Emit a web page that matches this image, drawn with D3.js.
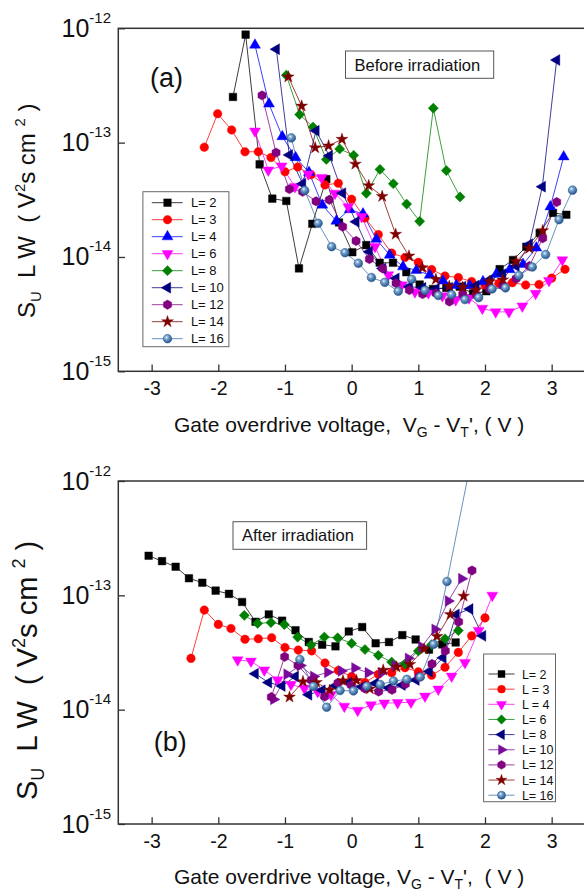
<!DOCTYPE html>
<html><head><meta charset="utf-8">
<script src="https://cdn.jsdelivr.net/npm/d3@7"></script>
<style>
body{margin:0;background:#fff}
svg{display:block}
text{font-family:"Liberation Sans",Arial,sans-serif;fill:#111;white-space:pre}
</style>
</head><body>
<svg id="c" width="584" height="891"></svg>
<script>
// ---------- tick values ----------
const xTickValues = [-3, -2, -1, 0, 1, 2, 3];
const yTickValues = [1e-15, 1e-14, 1e-13, 1e-12];
const yTickExponents = ["-15", "-14", "-13", "-12"];

// ---------- (a) Before irradiation ----------
const beforeLabels = ["L= 2", "L= 3", "L= 4", "L= 6", "L= 8", "L= 10", "L= 12", "L= 14", "L= 16"];

const before_L2_x = [-1.78,-1.59,-1.38,-1.19,-0.98,-0.79,-0.59,-0.38,-0.19,0.01,0.22,0.42,0.62,0.82,1.02,1.22,1.42,1.62,1.82,2.02,2.22,2.42,2.62,2.82,3.02,3.22];
const before_L2_y = [2.51e-13,8.81e-13,6.46e-14,3.24e-14,3.09e-14,7.94e-15,1.95e-14,4.79e-14,2.0e-14,1.10e-14,1.27e-14,8.9e-15,8.9e-15,7.35e-15,5.75e-15,5.25e-15,5.37e-15,5.5e-15,4.79e-15,5.01e-15,7.82e-15,9.42e-15,1.23e-14,1.62e-14,2.43e-14,2.34e-14];

const before_L3_x = [-2.21,-2.01,-1.80,-1.60,-1.40,-1.21,-1.0,-0.81,-0.61,-0.40,-0.20,0.0,0.20,0.40,0.60,0.80,1.0,1.2,1.4,1.6,1.8,2.0,2.21,2.41,2.61,2.81,3.0,3.2];
const before_L3_y = [9.12e-14,1.79e-13,1.29e-13,8.32e-14,8.32e-14,7.41e-14,5.56e-14,6.12e-14,5.25e-14,4.27e-14,4.41e-14,3.2e-14,2.19e-14,1.57e-14,1.08e-14,9.89e-15,8.97e-15,7.76e-15,6.82e-15,6.61e-15,6.1e-15,5.69e-15,5.89e-15,5.96e-15,5.69e-15,5.75e-15,6.53e-15,7.8e-15];

const before_L4_x = [-1.45,-1.24,-1.04,-0.84,-0.64,-0.44,-0.23,-0.03,0.17,0.37,0.57,0.77,0.97,1.17,1.37,1.57,1.77,1.97,2.17,2.37,2.57,2.77,2.98,3.18];
const before_L4_y = [7.14e-13,2.18e-13,1.13e-13,7.41e-14,5.5e-14,2.85e-14,2.06e-14,2.6e-14,2.38e-14,1.43e-14,1.04e-14,8.22e-15,7.64e-15,6.95e-15,6.17e-15,5.65e-15,5.62e-15,6.08e-15,7.08e-15,7.76e-15,8.61e-15,1.2e-14,2.75e-14,7.53e-14];

const before_L6_x = [-1.45,-1.25,-1.05,-0.85,-0.65,-0.45,-0.25,-0.05,0.15,0.35,0.55,0.75,0.95,1.15,1.36,1.56,1.76,1.96,2.16,2.36,2.56,2.76,2.96,3.16];
const before_L6_y = [1.26e-13,5.75e-14,6.24e-14,4.11e-14,5.31e-14,4.95e-14,3.6e-14,2.74e-14,2.25e-14,1.23e-14,6.97e-15,5.69e-15,4.95e-15,4.84e-15,4.57e-15,4.21e-15,4.37e-15,3.55e-15,3.31e-15,3.31e-15,3.72e-15,4.79e-15,6.21e-15,9.42e-15];

const before_L8_x = [-0.98,-0.78,-0.58,-0.38,-0.18,0.03,0.22,0.425,0.625,0.825,1.02,1.225,1.42,1.626];
const before_L8_y = [3.89e-13,1.76e-13,1.37e-13,7.13e-14,8.81e-14,7.76e-14,3.6e-14,5.83e-14,4.37e-14,2.9e-14,2.05e-14,2.0e-13,5.7e-14,3.35e-14];

const before_L10_x = [-1.13,-0.935,-0.735,-0.534,-0.335,-0.135,0.066,0.266,0.466,0.666,0.866,1.066,1.266,1.466,1.666,1.866,2.066,2.266,2.466,2.666,2.86,3.075];
const before_L10_y = [6.56e-13,7.8e-14,4.37e-14,1.27e-13,7.67e-14,3.61e-14,2.03e-14,1.11e-14,7.94e-15,6.5e-15,5.5e-15,5.37e-15,5.25e-15,5.37e-15,5.5e-15,5.62e-15,6.31e-15,7.08e-15,8.32e-15,1.29e-14,4.12e-14,5.28e-13];

const before_L12_x = [-1.344,-1.134,-0.934,-0.735,-0.534,-0.335,-0.135,0.066,0.266,0.465,0.666,0.865,1.065,1.266,1.466,1.666,1.866,2.066,2.266,2.466,2.666,2.866,3.076];
const before_L12_y = [2.59e-13,8.18e-14,3.92e-14,3.72e-14,3.07e-14,3.16e-14,1.84e-14,1.38e-14,9.59e-15,7.94e-15,5.89e-15,5.13e-15,4.73e-15,4.81e-15,4.07e-15,4.68e-15,4.68e-15,5.25e-15,5.62e-15,6.46e-15,8.32e-15,1.46e-14,3.02e-14];

const before_L14_x = [-0.95,-0.75,-0.547,-0.346,-0.145,0.056,0.257,0.458,0.66,0.86,1.06,1.263,1.464,1.665,1.866,2.066,2.266,2.466,2.665,2.866];
const before_L14_y = [3.76e-13,2.09e-13,9.02e-14,9.38e-14,1.07e-13,6.49e-14,4.21e-14,3.39e-14,1.58e-14,1.02e-14,8.04e-15,6.38e-15,5.55e-15,5.43e-15,5.13e-15,6.1e-15,6.31e-15,9.12e-15,1.19e-14,1.70e-14];

const before_L16_x = [-0.905,-0.704,-0.503,-0.30,-0.10,0.10,0.296,0.497,0.698,0.90,1.10,1.30,1.50,1.70,1.905,2.106,2.307,2.508,2.71,2.91,3.11,3.313];
const before_L16_y = [1.10e-13,3.82e-14,1.97e-14,1.23e-14,1.09e-14,8.81e-15,6.61e-15,6.0e-15,5.01e-15,6.38e-15,5.11e-15,4.6e-15,4.68e-15,4.24e-15,4.41e-15,5.25e-15,5.37e-15,6.89e-15,8.17e-15,1.05e-14,2.12e-14,3.84e-14];

// ---------- (b) After irradiation ----------
const afterLabels = ["L= 2", "L = 3", "L = 4", "L= 6", "L= 8", "L= 10", "L= 12", "L= 14", "L= 16"];

const after_L2_x = [-3.045,-2.844,-2.64,-2.44,-2.24,-2.04,-1.84,-1.643,-1.442,-1.243,-1.043,-0.842,-0.643,-0.442,-0.243,-0.043,0.158,0.36,0.56,0.76,0.96,1.16,1.36,1.56];
const after_L2_y = [2.22e-13,1.99e-13,1.78e-13,1.41e-13,1.29e-13,1.10e-13,1.03e-13,8.75e-14,5.87e-14,6.81e-14,6.0e-14,4.95e-14,3.91e-14,3.70e-14,3.58e-14,4.83e-14,5.28e-14,3.81e-14,3.90e-14,4.49e-14,4.11e-14,3.35e-14,3.72e-14,3.87e-14];

const after_L3_x = [-2.41,-2.21,-2.0,-1.81,-1.60,-1.40,-1.20,-1.0,-0.80,-0.60,-0.40,-0.20,0.0,0.2,0.4,0.6,0.8,1.0,1.2,1.4,1.6,1.8,2.0];
const after_L3_y = [2.81e-14,7.43e-14,5.57e-14,5.13e-14,4.13e-14,4.17e-14,4.26e-14,3.50e-14,3.32e-14,3.27e-14,2.56e-14,2.20e-14,1.95e-14,1.73e-14,2.04e-14,2.10e-14,2.33e-14,2.14e-14,2.0e-14,2.35e-14,3.17e-14,4.42e-14,6.35e-14];

const after_L4_x = [-1.71,-1.51,-1.31,-1.11,-0.91,-0.71,-0.51,-0.31,-0.11,0.09,0.29,0.49,0.69,0.89,1.1,1.3,1.5,1.7,1.905,2.11];
const after_L4_y = [2.72e-14,2.65e-14,2.22e-14,1.82e-14,1.66e-14,1.54e-14,1.44e-14,1.35e-14,1.07e-14,9.84e-15,1.10e-14,1.14e-14,1.15e-14,1.16e-14,1.31e-14,1.51e-14,1.96e-14,2.58e-14,4.92e-14,1.0e-13];

const after_L6_x = [-1.61,-1.41,-1.21,-1.01,-0.81,-0.61,-0.41,-0.21,0.0,0.2,0.4,0.6,0.8,1.0,1.2,1.4,1.6];
const after_L6_y = [6.68e-14,5.68e-14,5.78e-14,5.55e-14,4.31e-14,3.67e-14,4.32e-14,4.25e-14,3.80e-14,3.36e-14,2.99e-14,2.61e-14,2.51e-14,3.26e-14,3.70e-14,4.17e-14,4.92e-14];

const after_L8_x = [-1.446,-1.246,-1.045,-0.845,-0.644,-0.444,-0.244,-0.044,0.156,0.356,0.556,0.756,0.966,1.166,1.37,1.567,1.773,1.965];
const after_L8_y = [2.06e-14,1.73e-14,1.61e-14,1.95e-14,1.35e-14,1.48e-14,1.62e-14,1.72e-14,1.58e-14,1.70e-14,1.55e-14,1.64e-14,1.82e-14,2.16e-14,2.84e-14,6.81e-14,7.59e-14,4.42e-14];

const after_L10_x = [-1.17,-0.97,-0.77,-0.57,-0.36,-0.155,0.047,0.248,0.45,0.65,0.85,1.05,1.25,1.45,1.65];
const after_L10_y = [1.23e-14,2.04e-14,2.43e-14,1.95e-14,2.12e-14,2.18e-14,2.31e-14,2.10e-14,2.10e-14,2.44e-14,2.81e-14,3.55e-14,5.04e-14,8.91e-14,1.40e-13];

const after_L12_x = [-1.205,-1.005,-0.805,-0.605,-0.405,-0.205,-0.005,0.2,0.405,0.605,0.805,1.005,1.205,1.405,1.605,1.805];
const after_L12_y = [1.29e-14,2.90e-14,2.44e-14,1.81e-14,1.30e-14,1.72e-14,1.64e-14,1.53e-14,1.44e-14,1.49e-14,1.67e-14,1.94e-14,2.51e-14,3.27e-14,5.87e-14,1.65e-13];

const after_L14_x = [-0.932,-0.73,-0.53,-0.33,-0.13,0.072,0.273,0.473,0.673,0.874,1.087,1.28,1.48,1.68];
const after_L14_y = [1.29e-14,1.76e-14,1.73e-14,1.48e-14,1.79e-14,1.80e-14,1.52e-14,2.22e-14,2.36e-14,2.49e-14,3.39e-14,4.37e-14,6.79e-14,9.84e-14];

const after_L16_x = [-0.776,-0.573,-0.375,-0.174,0.027,0.227,0.428,0.628,0.828,1.03,1.23,1.43,1.84];
const after_L16_y = [2.75e-14,1.60e-14,1.05e-14,1.47e-14,1.46e-14,1.60e-14,1.66e-14,1.78e-14,1.84e-14,1.93e-14,3.73e-14,1.32e-13,2.09e-12];

// ---------- styles ----------
const beforeColors = ["#000000","#ff0000","#0000ff","#ff00ff","#008000","#000080","#800080","#800000","#3a6fa8"];
const beforeShapes = ["square","circle","triUp","triDown","diamond","triLeft","hexagon","star","ball"];
const afterColors  = ["#000000","#ff0000","#ff00ff","#008000","#000080","#7a0a9a","#800080","#800000","#3a6fa8"];
const afterShapes  = ["square","circle","triDown","diamond","triLeft","triRight","hexagon","star","ball"];

const svg = d3.select("#c");
const defs = svg.append("defs");
const grad = defs.append("radialGradient").attr("id","ball").attr("cx","38%").attr("cy","35%").attr("r","65%");
grad.append("stop").attr("offset","0%").attr("stop-color","#f4f8fc");
grad.append("stop").attr("offset","30%").attr("stop-color","#7ea9d3");
grad.append("stop").attr("offset","100%").attr("stop-color","#24548a");

const hexagon = {
  draw(ctx, size) {
    const r = Math.sqrt(2 * size / (3 * Math.sqrt(3)));
    for (let i = 0; i < 6; i++) {
      const a = Math.PI / 3 * i + Math.PI / 6;
      const px = r * Math.cos(a), py = r * Math.sin(a);
      if (i === 0) ctx.moveTo(px, py); else ctx.lineTo(px, py);
    }
    ctx.closePath();
  }
};

function markerSpec(kind, k) {
  switch (kind) {
    case "square":  return {type: d3.symbolSquare, size: 58 * k, rot: 0};
    case "circle":  return {type: d3.symbolCircle, size: 58 * k, rot: 0};
    case "triUp":   return {type: d3.symbolTriangle, size: 52 * k, rot: 0};
    case "triDown": return {type: d3.symbolTriangle, size: 52 * k, rot: 180};
    case "triLeft": return {type: d3.symbolTriangle, size: 52 * k, rot: -90};
    case "triRight":return {type: d3.symbolTriangle, size: 52 * k, rot: 90};
    case "diamond": return {type: d3.symbolSquare, size: 52 * k, rot: 45};
    case "hexagon": return {type: hexagon, size: 58 * k, rot: 0};
    case "star":    return {type: d3.symbolStar, size: 44 * k, rot: 0};
    case "ball":    return {type: d3.symbolCircle, size: 58 * k, rot: 0};
  }
}

function drawMarkers(g, pts, kind, color, k) {
  const spec = markerSpec(kind, k);
  const path = d3.symbol().type(spec.type).size(spec.size)();
  g.selectAll(null).data(pts).enter().append("path")
    .attr("d", path)
    .attr("transform", d => `translate(${d[0]},${d[1]}) rotate(${spec.rot})`)
    .attr("fill", kind === "ball" ? "url(#ball)" : color)
    .attr("stroke", kind === "ball" ? "#2b5d92" : color)
    .attr("stroke-width", kind === "ball" ? 0.6 : 0.4);
}

const LEFT = 118.3, RIGHT = 585;
const x = d3.scaleLinear().domain([-3.5, 3.5]).range([LEFT, RIGHT]);

function panel(p) {
  const y = d3.scaleLog().domain([1e-15, 1e-12]).range([p.bottom, p.top]);
  const id = "clip" + p.name;
  defs.append("clipPath").attr("id", id).append("rect")
    .attr("x", LEFT).attr("y", p.top).attr("width", RIGHT - LEFT).attr("height", p.bottom - p.top);

  const g = svg.append("g");
  const plot = g.append("g").attr("clip-path", `url(#${id})`);
  const line = d3.line().x(d => x(d[0])).y(d => y(d[1]));

  p.series.forEach((s, i) => {
    const data = s.x.map((v, j) => [v, s.y[j]]);
    plot.append("path").attr("d", line(data)).attr("fill", "none")
      .attr("stroke", p.colors[i]).attr("stroke-width", 0.9).attr("stroke-opacity", 0.85);
  });
  p.series.forEach((s, i) => {
    const pts = s.x.map((v, j) => [x(v), y(s.y[j])]);
    drawMarkers(plot, pts, p.shapes[i], p.colors[i], 1);
  });

  // axes (inward ticks)
  const xa = g.append("g").attr("transform", `translate(0,${p.bottom})`)
    .call(d3.axisBottom(x).tickValues(xTickValues).tickSize(-6.7).tickPadding(10)
      .tickFormat(d => String(d)));
  xa.select(".domain").remove();
  xa.selectAll("line").attr("stroke", "#333").attr("stroke-width", 1.3);
  xa.selectAll("text").attr("font-size", 19.5).attr("fill", "#111")
    .attr("font-family", '"Liberation Sans",Arial,sans-serif');

  const ya = g.append("g").attr("transform", `translate(${LEFT},0)`)
    .call(d3.axisLeft(y).tickValues(yTickValues).tickSize(-6.7).tickFormat(""));
  ya.select(".domain").remove();
  ya.selectAll("line").attr("stroke", "#333").attr("stroke-width", 1.3);

  yTickValues.forEach((v, i) => {
    const t = g.append("text").attr("x", 111).attr("y", y(v) + 8.5)
      .attr("text-anchor", "end").attr("font-size", 25);
    t.append("tspan").text("10");
    t.append("tspan").attr("dy", -14).attr("font-size", 15).text(yTickExponents[i]);
  });

  // frame
  g.append("rect").attr("x", LEFT).attr("y", p.top).attr("width", RIGHT - LEFT)
    .attr("height", p.bottom - p.top).attr("fill", "none").attr("stroke", "#333").attr("stroke-width", 1.5);

  // x title
  const xt = g.append("text").attr("x", 174).attr("y", p.xTitleY).attr("font-size", 21);
  xt.append("tspan").text(p.xTitleA);
  xt.append("tspan").attr("dy", 5).attr("font-size", 14).text("G");
  xt.append("tspan").attr("dy", -5).text(" - V");
  xt.append("tspan").attr("dy", 5).attr("font-size", 14).text("T");
  xt.append("tspan").attr("dy", -5).text(p.xTitleB);

  // y title
  const fs = p.yTitleSize;
  const yt = g.append("text").attr("transform", `translate(${p.yTitleX},${p.yTitleY}) rotate(-90)`)
    .attr("font-size", fs);
  yt.append("tspan").text("S");
  yt.append("tspan").attr("dy", fs * 0.25).attr("font-size", fs * 0.62).text("U");
  yt.append("tspan").attr("dy", -fs * 0.25).text("  L W  ( V");
  yt.append("tspan").attr("dy", -fs * 0.42).attr("font-size", fs * 0.62).text("2");
  yt.append("tspan").attr("dy", fs * 0.42).text("s cm ");
  yt.append("tspan").attr("dy", -fs * 0.42).attr("font-size", fs * 0.62).text("2");
  yt.append("tspan").attr("dy", fs * 0.42).text(" )");

  // panel letter
  g.append("text").attr("x", p.letter.x).attr("y", p.letter.y).attr("font-size", 27).text(p.letter.t);

  // note box
  g.append("rect").attr("x", p.note.x0).attr("y", p.note.y0)
    .attr("width", p.note.x1 - p.note.x0).attr("height", p.note.y1 - p.note.y0)
    .attr("fill", "#fff").attr("stroke", "#555").attr("stroke-width", 1);
  g.append("text").attr("x", p.note.tx).attr("y", p.note.ty).attr("font-size", 16.5).text(p.note.t);

  // legend
  const L = p.legend;
  g.append("rect").attr("x", L.x0).attr("y", L.y0).attr("width", L.x1 - L.x0).attr("height", L.y1 - L.y0)
    .attr("fill", "#fff").attr("stroke", "#666").attr("stroke-width", 1);
  p.labels.forEach((lab, i) => {
    const ry = L.y0 + L.first + i * L.step;
    g.append("line").attr("x1", L.lx0).attr("x2", L.lx1).attr("y1", ry).attr("y2", ry)
      .attr("stroke", p.colors[i]).attr("stroke-width", 0.9).attr("stroke-opacity", 0.85);
    drawMarkers(g, [[L.mx, ry]], p.shapes[i], p.colors[i], L.k);
    g.append("text").attr("x", L.tx).attr("y", ry + L.fs * 0.36).attr("font-size", L.fs).text(lab);
  });
}

panel({
  name: "a", top: 28.3, bottom: 371.3,
  series: [
    {x: before_L2_x, y: before_L2_y}, {x: before_L3_x, y: before_L3_y}, {x: before_L4_x, y: before_L4_y},
    {x: before_L6_x, y: before_L6_y}, {x: before_L8_x, y: before_L8_y}, {x: before_L10_x, y: before_L10_y},
    {x: before_L12_x, y: before_L12_y}, {x: before_L14_x, y: before_L14_y}, {x: before_L16_x, y: before_L16_y}
  ],
  labels: beforeLabels, colors: beforeColors, shapes: beforeShapes,
  xTitleY: 431.5, xTitleA: "Gate overdrive voltage,  V", xTitleB: "', ( V )",
  yTitleX: 35, yTitleY: 318, yTitleSize: 24,
  letter: {x: 150, y: 87, t: "(a)"},
  note: {x0: 345.5, y0: 51, x1: 493.7, y1: 78.3, tx: 354.5, ty: 70.5, t: "Before irradiation"},
  legend: {x0: 142.9, y0: 191.7, x1: 228.9, y1: 346.7, first: 11, step: 17,
           lx0: 151.8, lx1: 182.7, mx: 167.5, tx: 190.9, fs: 13, k: 1}
});

panel({
  name: "b", top: 481, bottom: 824,
  series: [
    {x: after_L2_x, y: after_L2_y}, {x: after_L3_x, y: after_L3_y}, {x: after_L4_x, y: after_L4_y},
    {x: after_L6_x, y: after_L6_y}, {x: after_L8_x, y: after_L8_y}, {x: after_L10_x, y: after_L10_y},
    {x: after_L12_x, y: after_L12_y}, {x: after_L14_x, y: after_L14_y}, {x: after_L16_x, y: after_L16_y}
  ],
  labels: afterLabels, colors: afterColors, shapes: afterShapes,
  xTitleY: 884, xTitleA: "Gate overdrive voltage, V", xTitleB: "',  ( V )",
  yTitleX: 37, yTitleY: 800, yTitleSize: 29,
  letter: {x: 153.8, y: 751, t: "(b)"},
  note: {x0: 233, y0: 521.7, x1: 366.6, y1: 549.3, tx: 242, ty: 541, t: "After irradiation"},
  legend: {x0: 483.6, y0: 654, x1: 555.5, y1: 801.7, first: 20, step: 15.15,
           lx0: 488.4, lx1: 514.5, mx: 501.5, tx: 521.9, fs: 12.5, k: 0.85}
});
</script>
</body></html>
